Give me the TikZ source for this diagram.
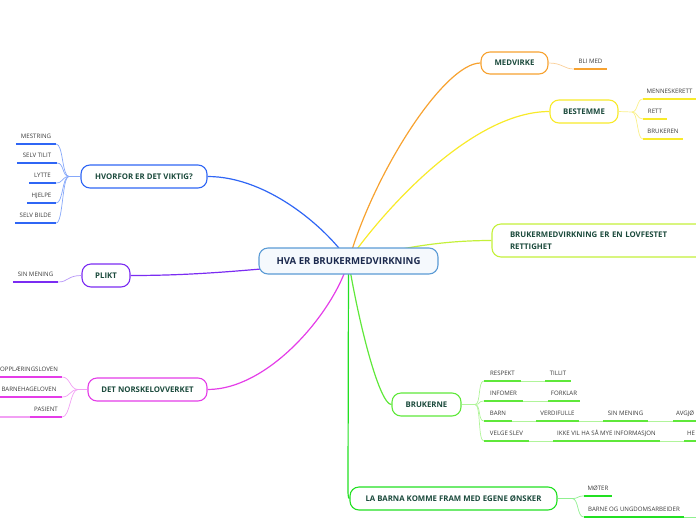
\documentclass[tikz,border=0pt]{standalone}
\usepackage{fontspec}
\setmainfont{Open Sans}
\usetikzlibrary{backgrounds}
\definecolor{cBlue}{HTML}{2F66F5}
\definecolor{cBlueL}{HTML}{86A8FA}
\definecolor{cPur}{HTML}{7B2CF2}
\definecolor{cPurL}{HTML}{B796F8}
\definecolor{cMag}{HTML}{E43DE8}
\definecolor{cMagL}{HTML}{F2A0F4}
\definecolor{cOra}{HTML}{F7A230}
\definecolor{cOraL}{HTML}{FAD09A}
\definecolor{cYel}{HTML}{F8EA2A}
\definecolor{cYelL}{HTML}{FAF08A}
\definecolor{cLime}{HTML}{C4F03A}
\definecolor{cGrn}{HTML}{5FE83A}
\definecolor{cGrnL}{HTML}{B0F49A}
\definecolor{cGrnT}{HTML}{22E022}
\definecolor{cGrnTL}{HTML}{90F090}
\definecolor{cTxt}{HTML}{1B4A3C}
\definecolor{cNavy}{HTML}{1C2A4E}
\definecolor{cLeaf}{HTML}{3A3A3A}
\definecolor{cCBord}{HTML}{5B9BD5}
\definecolor{cCFill}{HTML}{F5F9FD}
\tikzset{
  topic/.style={draw=#1, line width=1.1pt, rounded corners=9pt, fill=white, inner sep=0pt,
    font=\fontsize{7.8}{9}\selectfont\bfseries, text=cTxt},
  leaf/.style={inner sep=0pt, minimum height=14pt, anchor=south,
    font=\fontsize{6.1}{7}\selectfont, text=cLeaf},
  leafcut/.style={leaf, anchor=south west, inner xsep=5pt},
  ul/.style={line width=1.4pt, draw=#1},
  con/.style={line width=0.7pt, draw=#1},
  branch/.style={line width=1.2pt, draw=#1},
}
\begin{document}
\begin{tikzpicture}[x=1pt,y=-1pt]
\useasboundingbox (0,0) rectangle (696,520);
% ---- topics
\node[topic=cCBord, fill=cCFill, minimum width=179pt, minimum height=26pt,
  font=\fontsize{9.6}{10}\selectfont\bfseries, text=cNavy] (c) at (348.5,261) {HVA ER BRUKERMEDVIRKNING};
\node[topic=cBlue, minimum width=126pt, minimum height=23pt] (hv) at (144,176.5) {HVORFOR ER DET VIKTIG?};
\node[topic=cPur, minimum width=48pt, minimum height=23pt] (pl) at (106,275.5) {PLIKT};
\node[topic=cMag, minimum width=119pt, minimum height=23pt] (nl) at (147.5,389.5) {DET NORSKELOVVERKET};
\node[topic=cOra, minimum width=67pt, minimum height=22pt] (me) at (514.5,63) {MEDVIRKE};
\node[topic=cYel, minimum width=68pt, minimum height=23pt] (be) at (584,111.5) {BESTEMME};
\node[topic=cLime, text width=185pt, inner xsep=18pt, minimum height=33pt, align=left,
  font=\fontsize{7.8}{11.5}\selectfont\bfseries] (lo) at (602.5,240.5) {BRUKERMEDVIRKNING ER EN LOVFESTET\\RETTIGHET};
\node[topic=cGrn, minimum width=69pt, minimum height=23pt] (bk) at (426.5,404.5) {BRUKERNE};
\node[topic=cGrnT, minimum width=207pt, minimum height=23pt] (lb) at (453.5,498.5) {LA BARNA KOMME FRAM MED EGENE ØNSKER};
% ---- main branches
\begin{scope}[on background layer]
\draw[branch=cBlue] (c.center) .. controls (330,232) and (270,176.5) .. (hv.east);
\draw[branch=cOra] (c.center) .. controls (375,170) and (445,63) .. (me.west);
\draw[branch=cYel] (c.center) .. controls (380,215) and (470,111.5) .. (be.west);
\draw[branch=cLime] (c.center) .. controls (400,248) and (440,240.5) .. (lo.west);
\draw[branch=cPur] (c.center) .. controls (250,270) and (200,275.5) .. (pl.east);
\draw[branch=cMag] (c.center) .. controls (335,310) and (270,389.5) .. (nl.east);
\draw[branch=cGrn] (c.center) .. controls (360,330) and (380,404.5) .. (bk.west);
\draw[branch=cGrnT] (c.center) -- (348,490) .. controls (348,498.5) and (349,498.5) .. (lb.west);
\end{scope}
% ---- HVORFOR leaves
\coordinate (hvj) at (69,176.5);
\node[leaf, minimum width=40pt] (h1) at (36,144) {MESTRING};
\node[leaf, minimum width=40pt] (h2) at (37,163) {SELV TILIT};
\node[leaf, minimum width=27pt] (h3) at (42.5,183) {LYTTE};
\node[leaf, minimum width=29pt] (h4) at (41.5,203) {HJELPE};
\node[leaf, minimum width=41pt] (h5) at (35.5,223) {SELV BILDE};
\draw[con=cBlueL] (hv.west) -- (hvj);
\foreach \n in {h1,h2,h3,h4,h5}{
  \draw[con=cBlueL] (hvj) .. controls +(-7,0) and +(7,0) .. (\n.south east);
  \draw[ul=cBlue] (\n.south west) -- (\n.south east);
}
% ---- PLIKT leaf
\node[leaf, minimum width=45pt] (p1) at (35.5,282) {SIN MENING};
\draw[con=cPurL] (pl.west) .. controls +(-14,0) and +(10,0) .. (p1.south east);
\draw[ul=cPur] (p1.south west) -- (p1.south east);
% ---- NORSKE leaves
\coordinate (nlj) at (78,389.5);
\node[leaf, minimum width=66pt] (n1) at (29,377) {OPPLÆRINGSLOVEN};
\node[leaf, minimum width=66pt] (n2) at (29,397) {BARNEHAGELOVEN};
\node[leaf, minimum width=32pt] (n3) at (46,417) {PASIENT};
\coordinate (n3x) at (-4,417);
\draw[con=cMagL] (nl.west) -- (nlj);
\foreach \n in {n1,n2,n3}{
  \draw[con=cMagL] (nlj) .. controls +(-8,0) and +(8,0) .. (\n.south east);
  \draw[ul=cMag] (\n.south west) -- (\n.south east);
}
\draw[con=cMagL, line width=1.2pt] (n3.south west) -- (n3x);
% ---- MEDVIRKE leaf
\node[leaf, minimum width=33pt] (m1) at (590.5,69) {BLI MED};
\draw[con=cOraL] (me.east) .. controls +(14,0) and +(-10,0) .. (m1.south west);
\draw[ul=cOra] (m1.south west) -- (m1.south east);
% ---- BESTEMME leaves
\coordinate (bej) at (632,112);
\node[leaf, minimum width=53pt] (b1) at (669.5,99) {MENNESKERETT};
\node[leaf, minimum width=24pt] (b2) at (655,119) {RETT};
\node[leaf, minimum width=40pt] (b3) at (663,139) {BRUKEREN};
\draw[con=cYelL] (be.east) -- (bej);
\foreach \n in {b1,b2,b3}{
  \draw[con=cYelL] (bej) .. controls +(6,0) and +(-6,0) .. (\n.south west);
  \draw[ul=cYel] (\n.south west) -- (\n.south east);
}
% ---- BRUKERNE leaves
\coordinate (bkj) at (475,404.5);
\node[leaf, minimum width=37pt] (r11) at (502.5,381) {RESPEKT};
\node[leaf, minimum width=26pt] (r12) at (558,381) {TILLIT};
\node[leaf, minimum width=39pt] (r21) at (503.5,401) {INFOMER};
\node[leaf, minimum width=32pt] (r22) at (564,401) {FORKLAR};
\node[leaf, minimum width=28pt] (r31) at (498,421) {BARN};
\node[leaf, minimum width=43pt] (r32) at (557.5,421) {VERDIFULLE};
\node[leaf, minimum width=45pt] (r33) at (625.5,421) {SIN MENING};
\node[leafcut, inner xsep=3pt] (r34) at (673,421) {AVGJØ};
\node[leaf, minimum width=45pt] (r41) at (506.5,441) {VELGE SLEV};
\node[leaf, minimum width=107pt] (r42) at (606.5,441) {IKKE VIL HA SÅ MYE INFORMASJON};
\node[leafcut, inner xsep=3pt] (r43) at (684,441) {HE};
\draw[con=cGrnL] (bk.east) -- (bkj);
\foreach \n in {r11,r21,r31,r41}{
  \draw[con=cGrnL] (bkj) .. controls +(6,0) and +(-6,0) .. (\n.south west);
}
\draw[con=cGrnL] (r11.south east) -- (r12.south west);
\draw[con=cGrnL] (r21.south east) -- (r22.south west);
\draw[con=cGrnL] (r31.south east) -- (r32.south west);
\draw[con=cGrnL] (r32.south east) -- (r33.south west);
\draw[con=cGrnL] (r33.south east) -- (r34.south west);
\draw[con=cGrnL] (r41.south east) -- (r42.south west);
\draw[con=cGrnL] (r42.south east) -- (r43.south west);
\foreach \n in {r11,r12,r21,r22,r31,r32,r33,r34,r41,r42,r43}{
  \draw[ul=cGrn] (\n.south west) -- (\n.south east);
}
% ---- LA BARNA leaves
\coordinate (lbj) at (572,498.5);
\node[leaf, minimum width=28pt] (k1) at (598,496) {MØTER};
\node[leaf, minimum width=100pt] (k2) at (634,517) {BARNE OG UNGDOMSARBEIDER};
\coordinate (k2x) at (700,517);
\draw[con=cGrnTL] (lb.east) -- (lbj);
\foreach \n in {k1,k2}{
  \draw[con=cGrnTL] (lbj) .. controls +(7,0) and +(-7,0) .. (\n.south west);
  \draw[ul=cGrnT] (\n.south west) -- (\n.south east);
}
\draw[con=cGrnTL] (k2.south east) -- (k2x);
\end{tikzpicture}
\end{document}
